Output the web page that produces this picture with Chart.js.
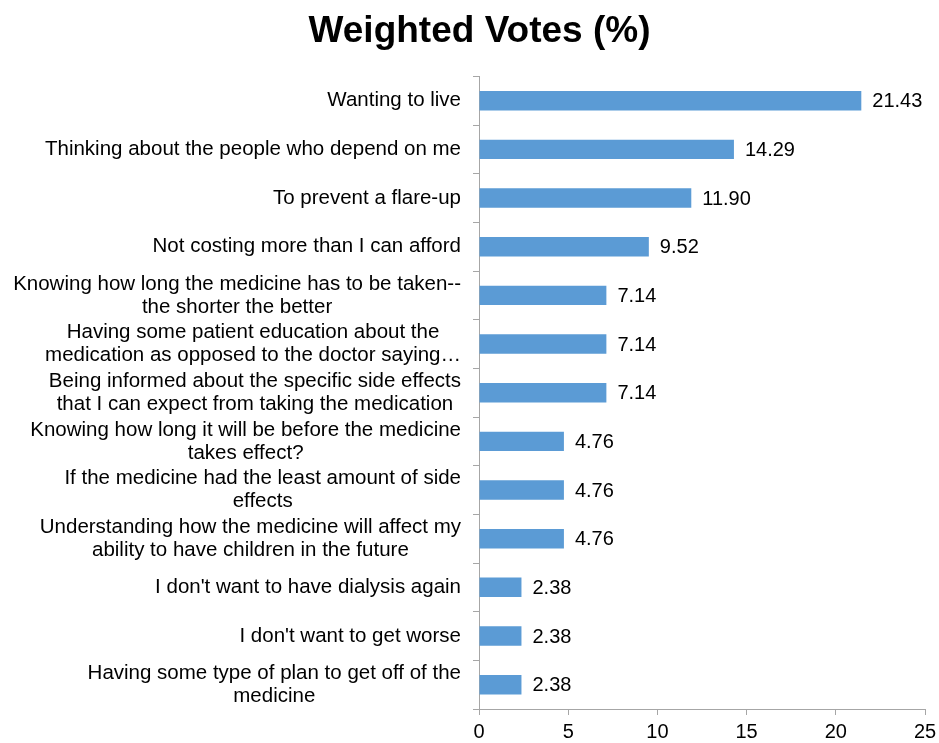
<!DOCTYPE html>
<html>
<head>
<meta charset="utf-8">
<title>Weighted Votes</title>
<script src="https://cdn.jsdelivr.net/npm/chart.js@4/dist/chart.umd.min.js"></script>
<style>
  html, body { margin: 0; padding: 0; background: #fff; }
  canvas { display: block; }
</style>
</head>
<body>
<canvas id="chartCanvas" width="939" height="743"></canvas>
<script>
// wrapped reason labels, one array of lines per bar
const categories = [
    ['Wanting to live'],
    ['Thinking about the people who depend on me'],
    ['To prevent a flare-up'],
    ['Not costing more than I can afford'],
    ['Knowing how long the medicine has to be taken--', 'the shorter the better'],
    ['Having some patient education about the', 'medication as opposed to the doctor saying\u2026'],
    ['Being informed about the specific side effects', 'that I can expect from taking the medication'],
    ['Knowing how long it will be before the medicine', 'takes effect?'],
    ['If the medicine had the least amount of side', 'effects'],
    ['Understanding how the medicine will affect my', 'ability to have children in the future'],
    ["I don't want to have dialysis again"],
    ["I don't want to get worse"],
    ['Having some type of plan to get off of the', 'medicine']
];
const votes = [21.43, 14.29, 11.90, 9.52, 7.14, 7.14, 7.14, 4.76, 4.76, 4.76, 2.38, 2.38, 2.38];
const xTicks = [0, 5, 10, 15, 20, 25];

const FONT = '"Liberation Sans", Arial, Helvetica, sans-serif';
const AXIS_GREY = '#A6A6A6';

// category labels: lines centred on each other, block right-aligned to the axis
const reasonLabels = {
    id: 'reasonLabels',
    afterDraw(chart){
        const ctx = chart.ctx;
        const yScale = chart.scales.y;
        const right = chart.chartArea.left - 18;
        ctx.save();
        ctx.font = '20.5px ' + FONT;
        ctx.fillStyle = '#000';
        ctx.textAlign = 'center';
        ctx.textBaseline = 'middle';
        categories.forEach((lines, i) => {
            const maxW = Math.max(...lines.map(l => ctx.measureText(l).width));
            const cx = right - maxW / 2;
            const cy = yScale.getPixelForValue(i);
            const lh = 23;
            const top = cy - (lines.length - 1) * lh / 2;
            lines.forEach((l, j) => ctx.fillText(l, cx, top + j * lh));
        });
        ctx.restore();
    }
};

// value printed just past the end of each bar
const valueLabels = {
    id: 'valueLabels',
    afterDatasetsDraw(chart){
        const ctx = chart.ctx;
        const meta = chart.getDatasetMeta(0);
        ctx.save();
        ctx.font = '20px ' + FONT;
        ctx.fillStyle = '#000';
        ctx.textAlign = 'left';
        ctx.textBaseline = 'middle';
        meta.data.forEach((bar, i) => {
            ctx.fillText(votes[i].toFixed(2), bar.x + 11, bar.y + 1);
        });
        ctx.restore();
    }
};

const ctx = document.getElementById('chartCanvas').getContext('2d');
const chart = new Chart(ctx, {
    type: 'bar',
    data: {
        labels: categories.map(c => c.join(' ')),
        datasets: [{
            data: votes,
            backgroundColor: '#5B9BD5',
            borderWidth: 0,
            barPercentage: 0.4,
            categoryPercentage: 1
        }]
    },
    options: {
        indexAxis: 'y',
        responsive: false,
        animation: false,
        layout: { padding: { left: 34, right: 14, top: 0, bottom: 0 } },
        plugins: {
            legend: { display: false },
            tooltip: { enabled: false },
            title: {
                display: true,
                text: 'Weighted Votes (%)',
                color: '#000',
                font: { family: FONT, size: 37, weight: 'bold' },
                padding: { top: 10, bottom: 22 }
            }
        },
        scales: {
            x: {
                min: 0,
                max: 25,
                afterBuildTicks(scale){ scale.ticks = xTicks.map(v => ({ value: v })); },
                ticks: { color: '#000', font: { family: FONT, size: 20, lineHeight: 1 }, padding: 7, maxRotation: 0 },
                grid: { drawOnChartArea: false, tickLength: 6, color: AXIS_GREY },
                border: { color: AXIS_GREY },
                afterFit(scale){
                    scale.height = 34;
                    scale.paddingLeft = 0;
                    scale.paddingRight = 0;
                }
            },
            y: {
                ticks: { display: false },
                grid: { drawOnChartArea: false, tickLength: 6, color: AXIS_GREY, offset: true },
                border: { color: AXIS_GREY },
                afterFit(scale){ scale.width = 445; }
            }
        }
    },
    plugins: [reasonLabels, valueLabels]
});
</script>
</body>
</html>
